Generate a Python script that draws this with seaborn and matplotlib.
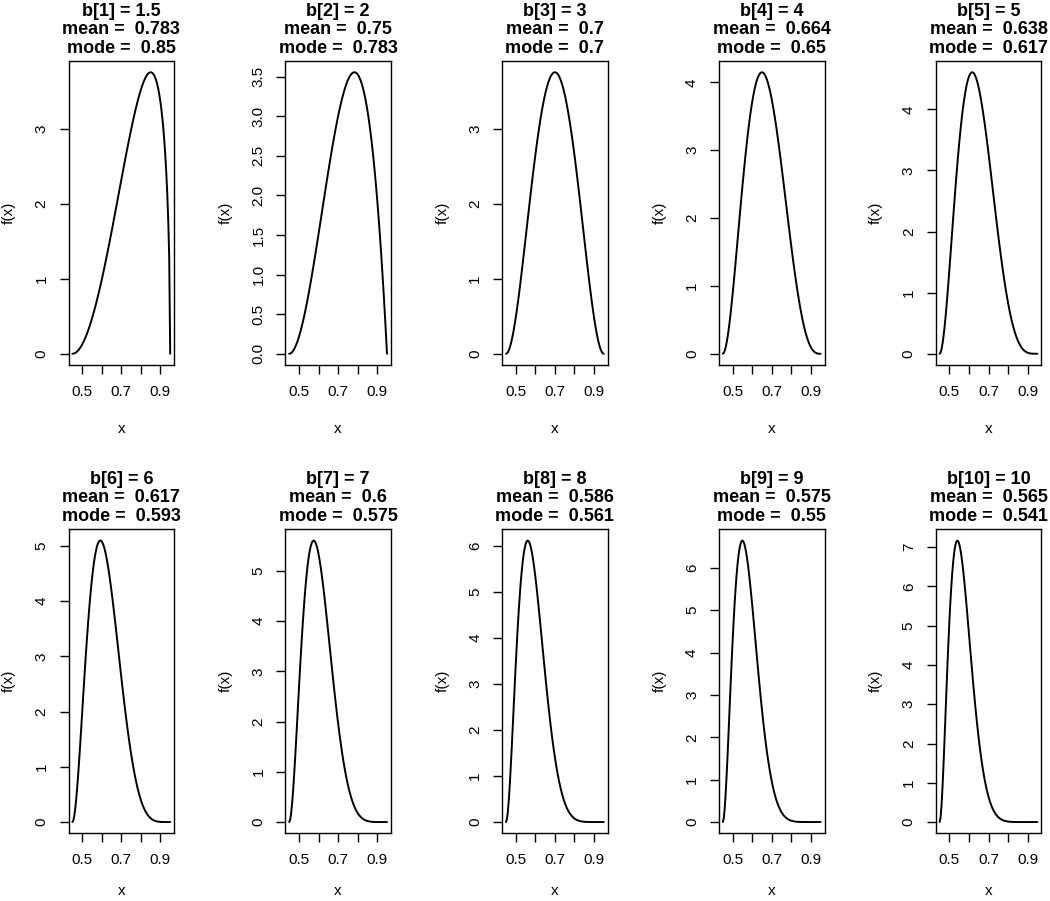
"""
Ten scaled beta densities, shape a = 3 on [0.45, 0.95], one panel per b.
"""

import math

import matplotlib
matplotlib.use("Agg")
import matplotlib.pyplot as plt
import numpy as np
import pandas as pd
import seaborn as sns

# ---------------------------------------------------------------------------
# Data (read off the panel titles / axes)
# ---------------------------------------------------------------------------
SHAPE_A = 3
X_LO = 0.45
X_HI = 0.95
N_POINTS = 101

B_VALUES = [1.5, 2, 3, 4, 5, 6, 7, 8, 9, 10]
B_LABELS = ["1.5", "2", "3", "4", "5", "6", "7", "8", "9", "10"]
MEAN_LABELS = ["0.783", "0.75", "0.7", "0.664", "0.638",
               "0.617", "0.6", "0.586", "0.575", "0.565"]
MODE_LABELS = ["0.85", "0.783", "0.7", "0.65", "0.617",
               "0.593", "0.575", "0.561", "0.55", "0.541"]

X_TICKS = [0.5, 0.6, 0.7, 0.8, 0.9]
X_TICK_LABELS = ["0.5", "", "0.7", "", "0.9"]
Y_STEPS = [1, 0.5, 1, 1, 1, 1, 1, 1, 1, 1]


def scaled_beta(x, a, b, lo, hi):
    z = (x - lo) / (hi - lo)
    norm = math.gamma(a + b) / (math.gamma(a) * math.gamma(b))
    return norm * z ** (a - 1) * (1 - z) ** (b - 1) / (hi - lo)


def build_frame() -> pd.DataFrame:
    xs = np.linspace(X_LO, X_HI, N_POINTS)
    rows = []
    for i, b in enumerate(B_VALUES):
        ys = scaled_beta(xs, SHAPE_A, b, X_LO, X_HI)
        rows.append(pd.DataFrame({"panel": i, "x": xs, "fx": ys}))
    return pd.concat(rows, ignore_index=True)


# ---------------------------------------------------------------------------
# Layout (pixel geometry of the R device)
# ---------------------------------------------------------------------------
W, H = 1050, 901
BOX_LEFT0 = 68.5
COL_STEP = 216.8
BOX_W = 105.6
ROW_TOP = [61, 529.3]
BOX_H = 304
XLAB_OFFSET = [64, 58]   # px below the box, per row


def main() -> None:
    sns.set_theme(style="ticks")
    plt.rcParams.update({
        "font.family": ["Liberation Sans", "DejaVu Sans"],
        "text.color": "black",
        "axes.labelcolor": "black",
        "axes.linewidth": 1.0,
        "axes.edgecolor": "black",
        "xtick.color": "black",
        "ytick.color": "black",
        "xtick.labelcolor": "black",
        "ytick.labelcolor": "black",
        "xtick.major.size": 6.3,
        "ytick.major.size": 6.3,
        "xtick.major.width": 1.0,
        "ytick.major.width": 1.0,
    })

    df = build_frame()
    fig = plt.figure(figsize=(W / 100, H / 100), dpi=100)

    for i in range(len(B_VALUES)):
        r, c = divmod(i, 5)
        left = (BOX_LEFT0 + COL_STEP * c) / W
        bottom = (H - ROW_TOP[r] - BOX_H) / H
        ax = fig.add_axes([left, bottom, BOX_W / W, BOX_H / H])

        sub = df[df["panel"] == i]
        sns.lineplot(data=sub, x="x", y="fx", color="black",
                     linewidth=1.4, ax=ax, sort=False)
        ax.margins(x=0.04, y=0.04)

        ax.set_xticks(X_TICKS)
        ax.set_xticklabels(X_TICK_LABELS, fontsize=11)
        top = sub["fx"].max()
        step = Y_STEPS[i]
        yt = np.arange(0, top + 1e-9, step)
        ax.set_yticks(yt)
        fmt = "{:.1f}" if step < 1 else "{:.0f}"
        ax.set_yticklabels([fmt.format(v) for v in yt], fontsize=11,
                           rotation=90, va="center")
        ax.tick_params(axis="x", pad=8)
        ax.tick_params(axis="y", pad=8)

        for s in ax.spines.values():
            s.set_visible(True)
            s.set_color("black")

        ax.set_xlabel("x", fontsize=11)
        ax.set_ylabel("f(x)", fontsize=11)
        ax.xaxis.set_label_coords(0.5, -XLAB_OFFSET[r] / BOX_H)
        ax.xaxis.label.set_va("center")
        ax.yaxis.set_label_coords(-59.5 / BOX_W, 0.5)
        ax.yaxis.label.set_va("center")
        ax.yaxis.label.set_ha("center")

        ax.set_title(
            f"b[{i + 1}] = {B_LABELS[i]}\nmean =  {MEAN_LABELS[i]}\nmode =  {MODE_LABELS[i]}",
            fontsize=13, fontweight="bold", linespacing=1.12, pad=6,
        )

    fig.savefig("out.png", dpi=100)
    plt.close(fig)


if __name__ == "__main__":
    main()
